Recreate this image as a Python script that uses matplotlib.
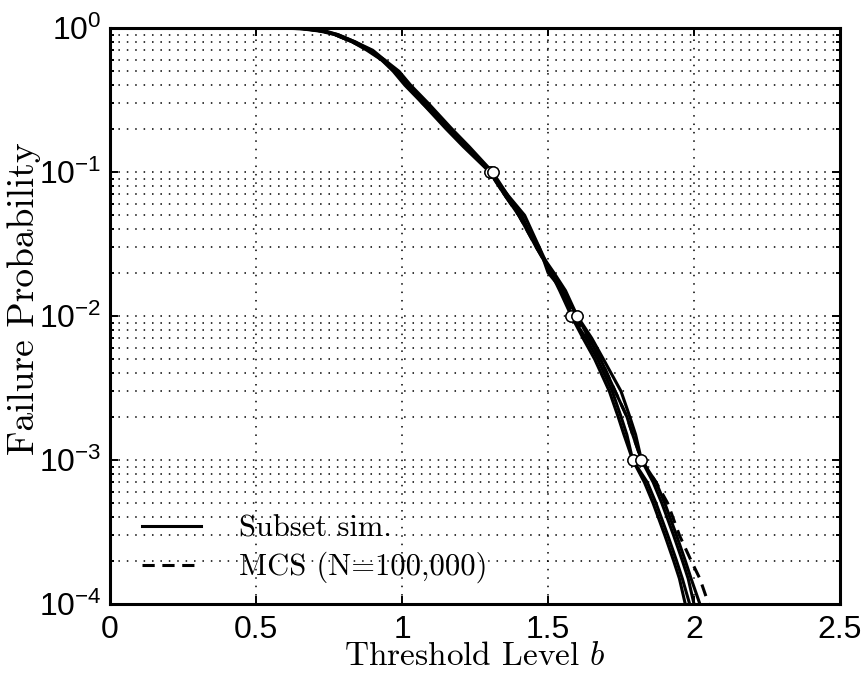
import matplotlib
matplotlib.use("Agg")
import matplotlib.pyplot as plt
from matplotlib.lines import Line2D

# ---------------- data ----------------
levels = [1, 0.99, 0.95, 0.9, 0.8, 0.7, 0.6, 0.5, 0.4, 0.3,
          0.2, 0.15, 0.1, 0.07, 0.05, 0.03, 0.02, 0.015, 0.01, 0.007,
          0.005, 0.003, 0.002, 0.0015, 0.001, 0.0007, 0.0005, 0.0003, 0.0002, 0.00015,
          0.0001]

run1 = [0.50, 0.66, 0.73, 0.77, 0.83, 0.88, 0.93, 0.97, 1.01, 1.07,
        1.16, 1.22, 1.30, 1.35, 1.40, 1.46, 1.51, 1.54, 1.58, 1.62,
        1.66, 1.71, 1.74, 1.76, 1.79, 1.83, 1.86, 1.90, 1.93, 1.95,
        1.97]
run2 = [0.50, 0.65, 0.72, 0.77, 0.83, 0.89, 0.93, 0.98, 1.02, 1.07,
        1.15, 1.21, 1.30, 1.36, 1.42, 1.47, 1.50, 1.55, 1.58, 1.63,
        1.67, 1.72, 1.75, 1.77, 1.79, 1.84, 1.87, 1.91, 1.94, 1.96,
        1.985]
run3 = [0.50, 0.66, 0.73, 0.78, 0.84, 0.89, 0.94, 0.98, 1.02, 1.08,
        1.16, 1.22, 1.31, 1.35, 1.41, 1.46, 1.52, 1.56, 1.60, 1.64,
        1.68, 1.73, 1.77, 1.79, 1.82, 1.86, 1.89, 1.93, 1.96, 1.98,
        2.00]
run4 = [0.50, 0.67, 0.74, 0.78, 0.84, 0.90, 0.94, 0.99, 1.03, 1.09,
        1.17, 1.23, 1.31, 1.36, 1.40, 1.47, 1.51, 1.55, 1.60, 1.65,
        1.69, 1.75, 1.78, 1.80, 1.82, 1.87, 1.90, 1.94, 1.97, 1.99,
        2.02]
runs = [run1, run2, run3, run4]

mcs_levels = levels
mcs_b = [0.50, 0.66, 0.73, 0.77, 0.83, 0.89, 0.93, 0.98, 1.02, 1.08,
         1.16, 1.22, 1.30, 1.35, 1.40, 1.46, 1.51, 1.55, 1.59, 1.64,
         1.68, 1.73, 1.77, 1.79, 1.82, 1.87, 1.91, 1.95, 1.99, 2.02,
         2.05]

circle_levels = [0.1, 0.01, 0.001]

xticks = [0, 0.5, 1, 1.5, 2, 2.5]
xticklabels = ["0", "0.5", "1", "1.5", "2", "2.5"]
legend_labels = ["Subset sim.", "MCS (N=100,000)"]

# ---------------- style ----------------
plt.rcParams['font.family'] = ['Liberation Sans', 'DejaVu Sans']
plt.rcParams['mathtext.fontset'] = 'cm'
plt.rcParams['axes.formatter.use_mathtext'] = True

LW = 2.2
fig = plt.figure(figsize=(8.62, 6.74), dpi=100)
ax = fig.add_axes([0.1276, 0.1039, 0.8469, 0.8546])

for r in runs:
    ax.plot(r, levels, color='black', lw=LW, zorder=3)
ax.plot(mcs_b, mcs_levels, color='black', lw=LW, ls=(0, (4, 2.5)), zorder=2)

for r in runs:
    cb = [r[levels.index(c)] for c in circle_levels]
    ax.plot(cb, circle_levels, ls='none', marker='o', ms=8,
            mfc='white', mec='black', mew=1.0, zorder=4)

ax.set_yscale('log')
ax.set_xlim(0, 2.5)
ax.set_ylim(1e-4, 1)
ax.set_xticks(xticks)
ax.set_xticklabels(xticklabels)

grid_ls = (0, (1, 4.5))
ax.grid(True, which='major', axis='both', color='black', lw=1.1, ls=grid_ls)
ax.grid(True, which='minor', axis='y', color='black', lw=1.1, ls=grid_ls)
ax.set_axisbelow(True)

ax.tick_params(which='both', direction='in', top=True, right=True,
               labelsize=23, width=1.4)
ax.tick_params(axis='x', pad=8)
ax.tick_params(axis='y', pad=6)
ax.tick_params(which='major', length=6)
ax.tick_params(which='minor', length=3)
for s in ax.spines.values():
    s.set_linewidth(2.2)

ax.set_xlabel(r"Threshold Level $b$", fontfamily='cmr10', fontsize=24, labelpad=-2)
ax.set_ylabel("Failure Probability", fontfamily='cmr10', fontsize=27)
ax.yaxis.set_label_coords(-0.095, 0.53)

h1 = Line2D([], [], color='black', lw=LW)
h2 = Line2D([], [], color='black', lw=LW, ls=(0, (4, 2.5)))
leg = ax.legend([h1, h2], legend_labels,
                loc='lower left', bbox_to_anchor=(0.035, 0.025), borderaxespad=0,
                borderpad=0.2, frameon=False, handlelength=1.95, handletextpad=1.25,
                labelspacing=0.3, prop={'family': 'cmr10', 'size': 22})

fig.savefig("out.png", dpi=100)
